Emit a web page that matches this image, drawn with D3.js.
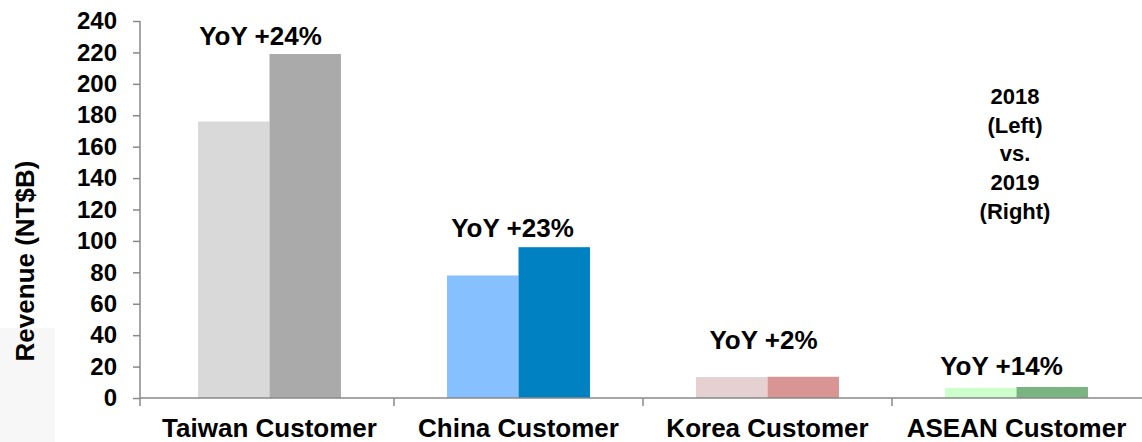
<!DOCTYPE html>
<html>
<head>
<meta charset="utf-8">
<script src="https://cdn.jsdelivr.net/npm/d3@7"></script>
<style>
  html, body { margin: 0; padding: 0; background: #fff; }
  svg { display: block; font-family: "Liberation Sans", Arial, sans-serif; }
</style>
</head>
<body>
<svg id="chart" width="1142" height="442"></svg>
<script>
// ---- data ----
const categories = ["Taiwan Customer", "China Customer", "Korea Customer", "ASEAN Customer"];
const years = ["2018", "2019"];
const revenue2018 = [176, 78, 13.3, 6.4];
const revenue2019 = [219, 96, 13.5, 7];
const yoyLabels = ["YoY +24%", "YoY +23%", "YoY +2%", "YoY +14%"];
const yTicks = [0, 20, 40, 60, 80, 100, 120, 140, 160, 180, 200, 220, 240];
const noteLines = ["2018", "(Left)", "vs.", "2019", "(Right)"];

// ---- styles ----
const colors2018 = ["#d9d9d9", "#87c0ff", "#e5d0d2", "#ccffcc"];
const colors2019 = ["#aaaaaa", "#0081c2", "#d99594", "#7ab480"];
const labelDy = [9, 10, 28, 12];
const labelDx = [-9, -6, -4, -15];

(function () {
const svg = d3.select("#chart");
const W = 1142, H = 442;
const axisX = 140, mLeft = 145, mRight = 1141, mTop = 21, mBottom = 398;

// faint background patch at lower left
svg.append("rect").attr("x", 0).attr("y", 328).attr("width", 55).attr("height", H - 328)
  .attr("fill", "#f7f7f7");

const y = d3.scaleLinear().domain([0, 240]).range([mBottom, mTop]);
const x0 = d3.scaleBand().domain(categories).range([mLeft, mRight]).padding(0);
const bw = x0.bandwidth();
const x1 = d3.scaleBand().domain(years).range([bw * 0.213, bw * 0.787]).padding(0);

const rows = categories.map((c, i) => ({ cat: c, i, vals: [revenue2018[i], revenue2019[i]] }));

const g = svg.append("g");
const groups = g.selectAll("g.cat").data(rows).join("g")
  .attr("transform", d => `translate(${x0(d.cat)},0)`);

groups.selectAll("rect").data(d => d.vals.map((v, k) => ({ v, k, i: d.i }))).join("rect")
  .attr("x", d => x1(years[d.k]))
  .attr("width", x1.bandwidth())
  .attr("y", d => y(d.v))
  .attr("height", d => y(0) - y(d.v))
  .attr("fill", d => d.k === 0 ? colors2018[d.i] : colors2019[d.i]);

// YoY labels
groups.append("text")
  .attr("x", d => bw / 2 + labelDx[d.i])
  .attr("y", d => y(Math.max(...d.vals)) - labelDy[d.i])
  .attr("text-anchor", "middle")
  .attr("font-weight", "bold")
  .attr("font-size", 26)
  .attr("fill", "#000")
  .text(d => yoyLabels[d.i]);

// Y axis
const yAxis = d3.axisLeft(y).tickValues(yTicks).tickSize(7).tickPadding(16);
const ya = svg.append("g").attr("transform", `translate(${axisX},0)`).call(yAxis);
ya.select(".domain").attr("stroke", "#888").attr("stroke-width", 1.5)
  .attr("d", `M0,${mTop}V${mBottom + 8}`);
ya.selectAll(".tick line").attr("stroke", "#888").attr("stroke-width", 1.5);
ya.selectAll(".tick text").attr("font-size", 24).attr("font-weight", "bold")
  .attr("fill", "#000").attr("font-family", "Liberation Sans, Arial, sans-serif");

// X axis
const xAxis = d3.axisBottom(x0).tickSize(0).tickPadding(21);
const xa = svg.append("g").attr("transform", `translate(0,${mBottom})`).call(xAxis);
xa.select(".domain").attr("stroke", "#888").attr("stroke-width", 1.5)
  .attr("d", `M${axisX},0H${W}`);
xa.selectAll(".tick text").attr("font-size", 26).attr("font-weight", "bold")
  .attr("fill", "#000").attr("font-family", "Liberation Sans, Arial, sans-serif");
// category separators
xa.selectAll("line.sep").data(categories.slice(1)).join("line")
  .attr("class", "sep")
  .attr("x1", d => x0(d)).attr("x2", d => x0(d))
  .attr("y1", 0).attr("y2", 8)
  .attr("stroke", "#888").attr("stroke-width", 1.5);

// Y axis title
svg.append("text")
  .attr("transform", `translate(34,261) rotate(-90)`)
  .attr("text-anchor", "middle")
  .attr("font-weight", "bold")
  .attr("font-size", 26)
  .attr("fill", "#000")
  .text("Revenue (NT$B)");

// note
svg.append("g").selectAll("text").data(noteLines).join("text")
  .attr("x", 1015)
  .attr("y", (d, i) => 104 + i * 28.7)
  .attr("text-anchor", "middle")
  .attr("font-weight", "bold")
  .attr("font-size", 22)
  .attr("fill", "#000")
  .text(d => d);
})();
</script>
</body>
</html>
